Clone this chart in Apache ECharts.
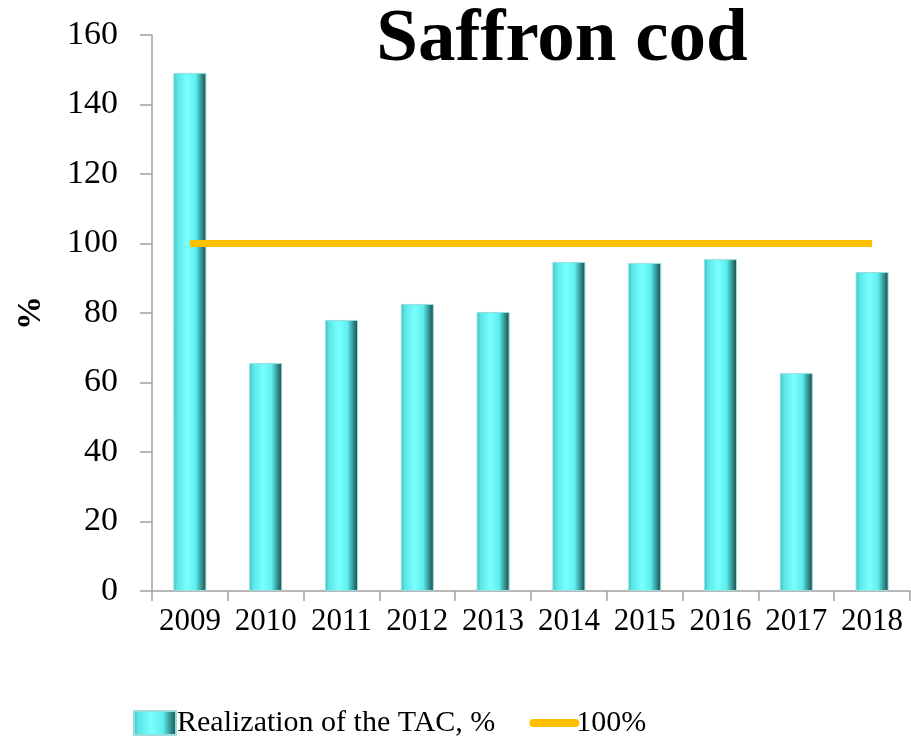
<!DOCTYPE html>
<html>
<head>
<meta charset="utf-8">
<script src="https://cdn.jsdelivr.net/npm/echarts@6/dist/echarts.min.js"></script>
<style>
  html, body { margin: 0; padding: 0; background: #fff; }
  #main { width: 911px; height: 744px; }
</style>
</head>
<body>
<div id="main"></div>
<script>
var years = ['2009', '2010', '2011', '2012', '2013', '2014', '2015', '2016', '2017', '2018'];
var realization = [149.1, 65.6, 78.0, 82.6, 80.3, 94.7, 94.4, 95.5, 62.7, 91.8];
var target = [100, 100, 100, 100, 100, 100, 100, 100, 100, 100];
var yTicks = [0, 20, 40, 60, 80, 100, 120, 140, 160];

var serif = '"Liberation Serif", "DejaVu Serif", serif';
var chart = echarts.init(document.getElementById('main'));

var barFill = new echarts.graphic.LinearGradient(0, 0, 1, 0, [
    {offset: 0, color: '#3cbcbc'},
    {offset: 0.12, color: '#5ae6e6'},
    {offset: 0.42, color: '#7affff'},
    {offset: 0.68, color: '#5eeeee'},
    {offset: 0.82, color: '#3aa4a4'},
    {offset: 1, color: '#1a4646'}
]);

var option = {
    animation: false,
    title: {
        text: 'Saffron cod',
        left: 557,
        top: -2,
        textAlign: 'center',
        textStyle: {fontFamily: serif, fontSize: 75, fontWeight: 'bold', color: '#000'}
    },
    grid: {left: 152, right: 1, top: 35, bottom: 153, outerBoundsMode: 'none'},
    legend: {
        top: 708,
        left: 133,
        padding: 0,
        itemGap: 34,
        itemWidth: 42,
        itemHeight: 24,
        textStyle: {fontFamily: serif, fontSize: 30, color: '#000', padding: [0, 0, 0, -4]},
        data: [
            {name: 'Realization of the TAC, %', icon: 'rect'},
            {name: '100%', itemStyle: {opacity: 0}, lineStyle: {width: 8, cap: 'round', color: '#ffc000'}}
        ]
    },
    xAxis: {
        type: 'category',
        data: years,
        axisLine: {lineStyle: {color: '#a0a0a0', width: 1.5}},
        axisTick: {show: true, length: 10, lineStyle: {color: '#a0a0a0', width: 1.5}},
        axisLabel: {fontFamily: serif, fontSize: 31, color: '#000', margin: 15, interval: 0}
    },
    yAxis: {
        type: 'value',
        min: yTicks[0],
        max: yTicks[yTicks.length - 1],
        interval: 20,
        name: '%',
        nameLocation: 'middle',
        nameGap: 104,
        nameRotate: 90,
        nameTextStyle: {fontFamily: serif, fontSize: 34, fontWeight: 'bold', color: '#000'},
        axisLine: {show: true, lineStyle: {color: '#a0a0a0', width: 1.5}},
        axisTick: {show: true, length: 12, lineStyle: {color: '#a0a0a0', width: 1.5}},
        splitLine: {show: false},
        axisLabel: {fontFamily: serif, fontSize: 34, color: '#000', margin: 34}
    },
    series: [
        {
            name: 'Realization of the TAC, %',
            type: 'bar',
            data: realization,
            barWidth: 33,
            itemStyle: {color: barFill, borderColor: '#9adede', borderWidth: 1}
        },
        {
            name: '100%',
            type: 'line',
            data: target,
            symbol: 'none',
            lineStyle: {color: '#ffc000', width: 7},
            itemStyle: {color: '#ffc000'}
        }
    ]
};
chart.setOption(option);
</script>
</body>
</html>
